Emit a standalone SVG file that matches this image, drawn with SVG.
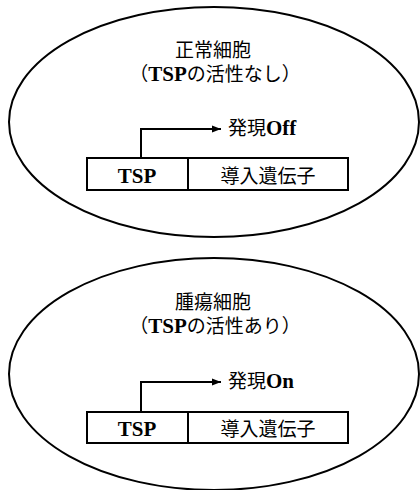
<svg xmlns="http://www.w3.org/2000/svg" width="420" height="490" viewBox="0 0 420 490">
<defs>
<marker id="ah" viewBox="0 0 10 10" refX="10" refY="5" markerWidth="9" markerHeight="9" markerUnits="userSpaceOnUse" orient="auto">
<path d="M0,1 L10,5 L0,9 Z" fill="#000"/>
</marker>
</defs>
<style>
.cell{fill:#fff;stroke:#000;stroke-width:2}
.box{fill:#fff;stroke:#000;stroke-width:2}
.jp{font-family:"Noto Sans CJK JP","Noto Sans",sans-serif;font-size:19px;fill:#000}
.lat{font-family:"Liberation Serif","Times New Roman",serif;font-weight:bold;font-size:21px}
.conn{fill:none;stroke:#000;stroke-width:2}
</style>
<rect width="420" height="490" fill="#fff"/>
<g id="cell-normal">
<ellipse class="cell" cx="214" cy="122" rx="205" ry="115"/>
<text class="jp" x="213" y="57" text-anchor="middle">正常細胞</text>
<text class="jp" x="215" y="81" text-anchor="middle">（<tspan class="lat">TSP</tspan>の活性なし）</text>
<text class="jp" x="228" y="135">発現<tspan class="lat">Off</tspan></text>
</g>
<g id="construct-normal">
<rect class="box" x="87" y="158" width="261" height="32"/>
<line class="box" x1="188" y1="158" x2="188" y2="190"/>
<text class="lat" x="137" y="183" text-anchor="middle">TSP</text>
<text class="jp" x="268" y="183" text-anchor="middle">導入遺伝子</text>
</g>
<g id="cell-tumor">
<ellipse class="cell" cx="214" cy="374" rx="205" ry="116"/>
<text class="jp" x="213" y="309" text-anchor="middle">腫瘍細胞</text>
<text class="jp" x="215" y="333" text-anchor="middle">（<tspan class="lat">TSP</tspan>の活性あり）</text>
<text class="jp" x="228" y="388">発現<tspan class="lat">On</tspan></text>
</g>
<g id="construct-tumor">
<rect class="box" x="87" y="412" width="261" height="31"/>
<line class="box" x1="188" y1="412" x2="188" y2="443"/>
<text class="lat" x="137" y="436" text-anchor="middle">TSP</text>
<text class="jp" x="268" y="436" text-anchor="middle">導入遺伝子</text>
</g>
<g id="connectors">
<path class="conn" d="M141,158 V129 H221" marker-end="url(#ah)"/>
<path class="conn" d="M141,412 V382 H221" marker-end="url(#ah)"/>
</g>
</svg>
